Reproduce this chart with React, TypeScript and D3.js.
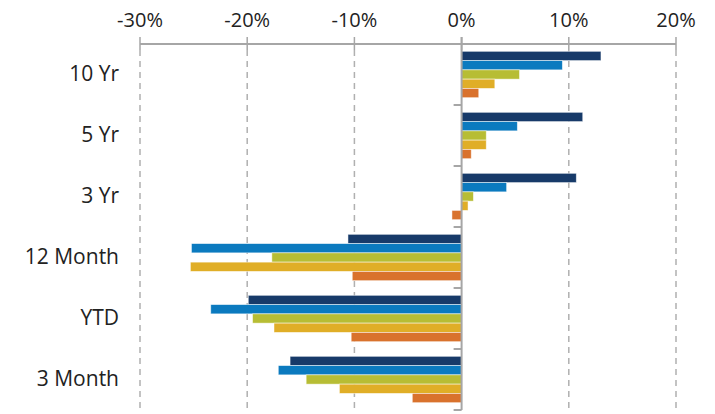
import React, { useEffect, useRef } from 'react';
import * as d3 from 'd3';

const categories = ['10 Yr', '5 Yr', '3 Yr', '12 Month', 'YTD', '3 Month'];
const seriesNames = ['s1', 's2', 's3', 's4', 's5'];
const seriesColors = ['#173a69', '#0b7abf', '#b7bd34', '#e0ae27', '#d9722d'];

// values in % per category, one per series
const s1 = [13.0, 11.3, 10.7, -10.6, -19.9, -16.0];
const s2 = [9.4, 5.2, 4.2, -25.2, -23.4, -17.1];
const s3 = [5.4, 2.3, 1.1, -17.7, -19.5, -14.5];
const s4 = [3.1, 2.3, 0.6, -25.3, -17.5, -11.4];
const s5 = [1.6, 0.9, -0.9, -10.2, -10.3, -4.6];
const allSeries = [s1, s2, s3, s4, s5];

const tickValues = [-0.3, -0.2, -0.1, 0, 0.1, 0.2];

export default function App() {
  const svgRef = useRef<SVGSVGElement>(null);

  useEffect(() => {
    const svg = d3.select(svgRef.current);
    svg.selectAll('*').remove();

    const left = 140, right = 676, top = 44, bottom = 410;
    const font = "'Open Sans', sans-serif";

    const x = d3.scaleLinear().domain([-0.3, 0.2]).range([left, right]);
    const y = d3.scaleBand().domain(categories).range([top, bottom]);
    const inner = d3.scaleBand().domain(seriesNames)
      .range([0, y.bandwidth()]).paddingOuter(0.79).paddingInner(0);

    // dashed grid
    svg.append('g').selectAll('line')
      .data(tickValues.filter(t => t !== 0))
      .join('line')
      .attr('x1', d => x(d)).attr('x2', d => x(d))
      .attr('y1', top + 6).attr('y2', bottom)
      .attr('stroke', '#b0b0b0').attr('stroke-width', 1.5)
      .attr('stroke-dasharray', '6,5');

    // bars
    allSeries.forEach((vals, si) => {
      svg.append('g').selectAll('rect')
        .data(vals)
        .join('rect')
        .attr('x', d => x(Math.min(0, d / 100)))
        .attr('width', d => Math.abs(x(d / 100) - x(0)))
        .attr('y', (d, i) => (y(categories[i]) as number) + (inner(seriesNames[si]) as number))
        .attr('height', inner.bandwidth())
        .attr('fill', seriesColors[si])
        .attr('stroke', 'rgba(255,255,255,0.6)')
        .attr('stroke-width', 0.8);
    });

    // top axis
    const axisColor = '#a6a6a6';
    svg.append('line')
      .attr('x1', left).attr('x2', right)
      .attr('y1', top).attr('y2', top)
      .attr('stroke', axisColor).attr('stroke-width', 2);
    svg.append('g').selectAll('line')
      .data(tickValues)
      .join('line')
      .attr('x1', d => x(d)).attr('x2', d => x(d))
      .attr('y1', top - 7).attr('y2', top + 6)
      .attr('stroke', axisColor).attr('stroke-width', 1.5);
    svg.append('g').selectAll('text')
      .data(tickValues)
      .join('text')
      .attr('x', d => x(d)).attr('y', 27)
      .attr('text-anchor', 'middle')
      .attr('font-family', font).attr('font-size', 20)
      .attr('fill', '#222')
      .text(d => d3.format('.0%')(d).replace('−', '-'));

    // category axis at zero
    svg.append('line')
      .attr('x1', x(0)).attr('x2', x(0))
      .attr('y1', top - 7).attr('y2', bottom)
      .attr('stroke', axisColor).attr('stroke-width', 2);
    svg.append('g').selectAll('line')
      .data(d3.range(categories.length + 1))
      .join('line')
      .attr('x1', x(0) - 8).attr('x2', x(0))
      .attr('y1', i => top + i * y.step()).attr('y2', i => top + i * y.step())
      .attr('stroke', axisColor).attr('stroke-width', 2);

    svg.append('g').selectAll('text')
      .data(categories)
      .join('text')
      .attr('x', 119)
      .attr('y', d => (y(d) as number) + y.bandwidth() / 2 - 1)
      .attr('dy', '0.35em')
      .attr('text-anchor', 'end')
      .attr('font-family', font).attr('font-size', 21)
      .attr('fill', '#222')
      .text(d => d);
  }, []);

  return (
    <svg ref={svgRef} width={715} height={414}
      style={{ position: 'absolute', left: 0, top: 0 }} />
  );
}
